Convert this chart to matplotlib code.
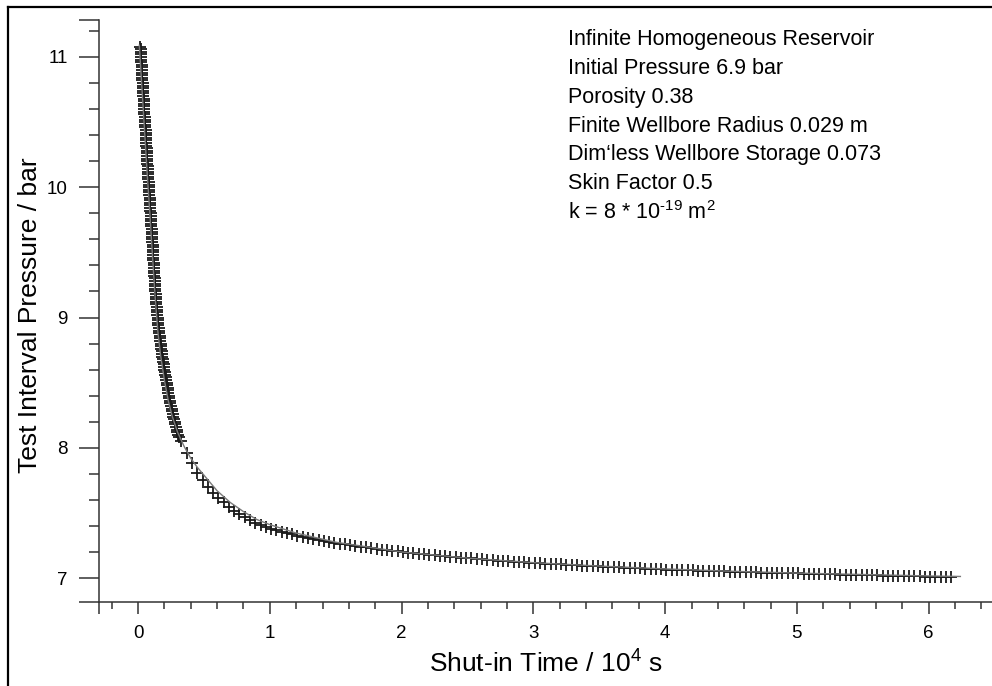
import numpy as np
import matplotlib
matplotlib.use("Agg")
import matplotlib.pyplot as plt
from matplotlib.lines import Line2D

plt.rcParams['font.family'] = ['Liberation Sans', 'DejaVu Sans']
plt.rcParams['mathtext.fontset'] = 'custom'
plt.rcParams['mathtext.rm'] = 'Liberation Sans'
plt.rcParams['mathtext.it'] = 'Liberation Sans:italic'
plt.rcParams['mathtext.default'] = 'regular'

# measured shut-in pressures, early (steep) part: time / 1e4 s, pressure / bar
t_early = [0.018, 0.019, 0.021, 0.022, 0.023, 0.024, 0.025, 0.027, 0.028, 0.029,
           0.030, 0.031, 0.033, 0.034, 0.035, 0.036, 0.037, 0.039, 0.040, 0.041,
           0.042, 0.043, 0.045, 0.046, 0.047, 0.048, 0.049, 0.051, 0.052, 0.053,
           0.054, 0.055, 0.057, 0.058, 0.059, 0.060, 0.061, 0.063, 0.064, 0.065,
           0.066, 0.067, 0.069, 0.070, 0.071, 0.072, 0.073, 0.075, 0.076, 0.077,
           0.078, 0.079, 0.081, 0.082, 0.083, 0.084, 0.085, 0.087, 0.088, 0.089,
           0.090, 0.092, 0.093, 0.094, 0.095, 0.097, 0.098, 0.099, 0.100, 0.102,
           0.103, 0.104, 0.105, 0.106, 0.107, 0.109, 0.110, 0.111, 0.112, 0.114,
           0.115, 0.116, 0.117, 0.119, 0.120, 0.121, 0.122, 0.124, 0.125, 0.126,
           0.127, 0.129, 0.130, 0.131, 0.132, 0.134, 0.135, 0.137, 0.138, 0.140,
           0.141, 0.143, 0.144, 0.146, 0.148, 0.150, 0.152, 0.155, 0.157, 0.159,
           0.161, 0.164, 0.166, 0.169, 0.171, 0.174, 0.176, 0.179, 0.182, 0.185,
           0.188, 0.191, 0.194, 0.197, 0.200, 0.203, 0.206, 0.210, 0.213, 0.217,
           0.220, 0.224, 0.227, 0.231, 0.234, 0.238, 0.242, 0.246, 0.250, 0.255,
           0.259, 0.264, 0.268, 0.273, 0.278, 0.283, 0.288, 0.294, 0.299, 0.305,
           0.311]
p_early = [11.08, 11.06, 11.04, 11.02, 11.00, 10.98, 10.96, 10.94, 10.92, 10.90,
           10.88, 10.86, 10.84, 10.82, 10.80, 10.78, 10.76, 10.74, 10.72, 10.70,
           10.68, 10.66, 10.64, 10.62, 10.60, 10.58, 10.56, 10.54, 10.52, 10.50,
           10.48, 10.46, 10.44, 10.42, 10.40, 10.38, 10.36, 10.34, 10.32, 10.30,
           10.28, 10.26, 10.24, 10.22, 10.20, 10.18, 10.16, 10.14, 10.12, 10.10,
           10.08, 10.06, 10.04, 10.02, 10.00, 9.98, 9.96, 9.94, 9.92, 9.90,
           9.88, 9.86, 9.84, 9.82, 9.80, 9.78, 9.76, 9.74, 9.72, 9.70,
           9.68, 9.66, 9.64, 9.62, 9.60, 9.58, 9.56, 9.54, 9.52, 9.50,
           9.48, 9.46, 9.44, 9.42, 9.40, 9.38, 9.36, 9.34, 9.32, 9.30,
           9.28, 9.26, 9.24, 9.22, 9.20, 9.18, 9.16, 9.14, 9.12, 9.10,
           9.08, 9.06, 9.04, 9.02, 9.00, 8.98, 8.96, 8.94, 8.92, 8.90,
           8.88, 8.86, 8.84, 8.82, 8.80, 8.78, 8.76, 8.74, 8.72, 8.70,
           8.68, 8.66, 8.64, 8.62, 8.60, 8.58, 8.56, 8.54, 8.52, 8.50,
           8.48, 8.46, 8.44, 8.42, 8.40, 8.38, 8.36, 8.34, 8.32, 8.30,
           8.28, 8.26, 8.24, 8.22, 8.20, 8.18, 8.16, 8.14, 8.12, 8.10,
           8.08]

# measured shut-in pressures, late part
t_late = [0.33, 0.37, 0.41, 0.45, 0.49, 0.53, 0.57, 0.61, 0.65, 0.69,
          0.73, 0.77, 0.81, 0.85, 0.89, 0.93, 0.97, 1.01, 1.05, 1.09,
          1.13, 1.17, 1.21, 1.25, 1.29, 1.33, 1.37, 1.41, 1.45, 1.49,
          1.53, 1.57, 1.61, 1.65, 1.69, 1.73, 1.77, 1.81, 1.85, 1.89,
          1.93, 1.97, 2.01, 2.05, 2.09, 2.13, 2.17, 2.21, 2.25, 2.29,
          2.33, 2.37, 2.41, 2.45, 2.49, 2.53, 2.57, 2.61, 2.65, 2.69,
          2.73, 2.77, 2.81, 2.85, 2.89, 2.93, 2.97, 3.01, 3.05, 3.09,
          3.13, 3.17, 3.21, 3.25, 3.29, 3.33, 3.37, 3.41, 3.45, 3.49,
          3.53, 3.57, 3.61, 3.65, 3.69, 3.73, 3.77, 3.81, 3.85, 3.89,
          3.93, 3.97, 4.01, 4.05, 4.09, 4.13, 4.17, 4.21, 4.25, 4.29,
          4.33, 4.37, 4.41, 4.45, 4.49, 4.53, 4.57, 4.61, 4.65, 4.69,
          4.73, 4.77, 4.81, 4.85, 4.89, 4.93, 4.97, 5.01, 5.05, 5.09,
          5.13, 5.17, 5.21, 5.25, 5.29, 5.33, 5.37, 5.41, 5.45, 5.49,
          5.53, 5.57, 5.61, 5.65, 5.69, 5.73, 5.77, 5.81, 5.85, 5.89,
          5.93, 5.97, 6.01, 6.05, 6.09, 6.13, 6.17]
p_late = [8.050, 7.960, 7.880, 7.810, 7.750, 7.700, 7.655, 7.615, 7.580, 7.545,
          7.515, 7.490, 7.470, 7.445, 7.425, 7.410, 7.395, 7.380, 7.370, 7.357,
          7.345, 7.335, 7.325, 7.315, 7.306, 7.298, 7.290, 7.283, 7.276, 7.270,
          7.264, 7.258, 7.252, 7.246, 7.240, 7.235, 7.229, 7.224, 7.219, 7.214,
          7.209, 7.204, 7.200, 7.196, 7.191, 7.187, 7.183, 7.179, 7.175, 7.171,
          7.167, 7.164, 7.160, 7.157, 7.153, 7.150, 7.146, 7.143, 7.140, 7.137,
          7.134, 7.131, 7.128, 7.125, 7.122, 7.120, 7.117, 7.115, 7.112, 7.110,
          7.108, 7.106, 7.104, 7.102, 7.100, 7.098, 7.096, 7.094, 7.092, 7.090,
          7.088, 7.086, 7.084, 7.082, 7.080, 7.078, 7.077, 7.075, 7.073, 7.071,
          7.069, 7.067, 7.065, 7.064, 7.062, 7.061, 7.060, 7.059, 7.057, 7.056,
          7.055, 7.054, 7.052, 7.051, 7.050, 7.049, 7.047, 7.046, 7.045, 7.044,
          7.042, 7.041, 7.040, 7.039, 7.038, 7.037, 7.036, 7.035, 7.034, 7.033,
          7.032, 7.031, 7.030, 7.029, 7.028, 7.027, 7.026, 7.025, 7.024, 7.023,
          7.022, 7.021, 7.020, 7.019, 7.018, 7.017, 7.016, 7.015, 7.014, 7.013,
          7.012, 7.011, 7.010, 7.009, 7.008, 7.007, 7.006]

# fitted model (infinite homogeneous reservoir)
model_t = [0.010, 0.030, 0.050, 0.070, 0.090, 0.110, 0.130, 0.150, 0.170, 0.200,
           0.230, 0.260, 0.300, 0.350, 0.400, 0.450, 0.500, 0.550, 0.600, 0.700,
           0.800, 0.900, 1.00, 1.20, 1.50, 2.00, 2.50, 3.00, 3.50, 4.00,
           4.50, 5.00, 5.50, 6.00, 6.24]
model_p = [11.09, 10.76, 10.43, 10.10, 9.80, 9.47, 9.16, 8.90, 8.72, 8.52,
           8.36, 8.24, 8.12, 8.01, 7.92, 7.85, 7.79, 7.73, 7.67, 7.58,
           7.51, 7.45, 7.41, 7.345, 7.275, 7.20, 7.153, 7.118, 7.092, 7.070,
           7.052, 7.038, 7.027, 7.016, 7.012]

x_ticks = [0, 1, 2, 3, 4, 5, 6]
y_ticks = [7, 8, 9, 10, 11]

info_lines = ["Infinite Homogeneous Reservoir",
              "Initial Pressure 6.9 bar",
              "Porosity 0.38",
              "Finite Wellbore Radius 0.029 m",
              "Dim\u2018less Wellbore Storage 0.073",
              "Skin Factor 0.5",
              r"k = 8 * 10$^{\text{-19}}$ m$^{2}$"]

W, H = 992, 686
fig = plt.figure(figsize=(W / 100, H / 100), dpi=100)
ax = fig.add_axes([99 / W, 84 / H, 893 / W, 582 / H])

xmin, xmax = -0.296, 6.48
ymin, ymax = 6.816, 11.284

ax.plot(t_early + t_late, p_early + p_late, ls='none', marker='+', ms=8.5,
        mew=1.3, color='#1a1a1a', zorder=2)
ax.plot(model_t, model_p, color='#7a7a7a', lw=1.0, zorder=3)

ax.set_xlim(xmin, xmax)
ax.set_ylim(ymin, ymax)

for s in ['top', 'right']:
    ax.spines[s].set_visible(False)
for s in ['left', 'bottom']:
    ax.spines[s].set_linewidth(1.1)
    ax.spines[s].set_color('#333333')

# end caps drawn as unlabelled major ticks
ax.set_xticks([xmin] + x_ticks)
ax.set_xticklabels([''] + [str(v) for v in x_ticks])
ax.set_yticks([ymin] + y_ticks + [ymax])
ax.set_yticklabels([''] + [str(v) for v in y_ticks] + [''])
xm = [round(v, 1) for v in np.arange(-0.2, 6.5, 0.2) if abs(v - round(v)) > 0.01]
ym = [round(v, 1) for v in np.arange(7.2, 11.3, 0.2) if abs(v - round(v)) > 0.01]
ax.set_xticks(xm, minor=True)
ax.set_yticks(ym, minor=True)

ax.tick_params(axis='x', which='major', length=8.6, width=1.1, color='#333333',
               pad=8, labelsize=13.5)
ax.tick_params(axis='x', which='minor', length=5, width=1.1, color='#333333')
ax.tick_params(axis='y', which='major', length=14.4, width=1.1, color='#333333',
               pad=8, labelsize=13.5)
ax.tick_params(axis='y', which='minor', length=7.2, width=1.1, color='#333333')

fig.text(546 / W, 1 - 664 / H, r"Shut-in Time / 10$^{4}$ s", fontsize=19,
         ha='center', va='center')
fig.text(30 / W, 1 - 315 / H, "Test Interval Pressure / bar", fontsize=19,
         ha='center', va='center', rotation=90)

for i, line in enumerate(info_lines):
    fig.text(568 / W, 1 - (40 + 28.7 * i) / H, line, fontsize=15.5, va='center')

# outer frame (runs off the right and bottom edges)
fig.add_artist(Line2D([8 / W, 1.0], [1 - 7 / H, 1 - 7 / H], color='black', lw=1.6))
fig.add_artist(Line2D([8 / W, 8 / W], [0.0, 1 - 7 / H], color='black', lw=1.6))

fig.savefig("out.png", dpi=100)
